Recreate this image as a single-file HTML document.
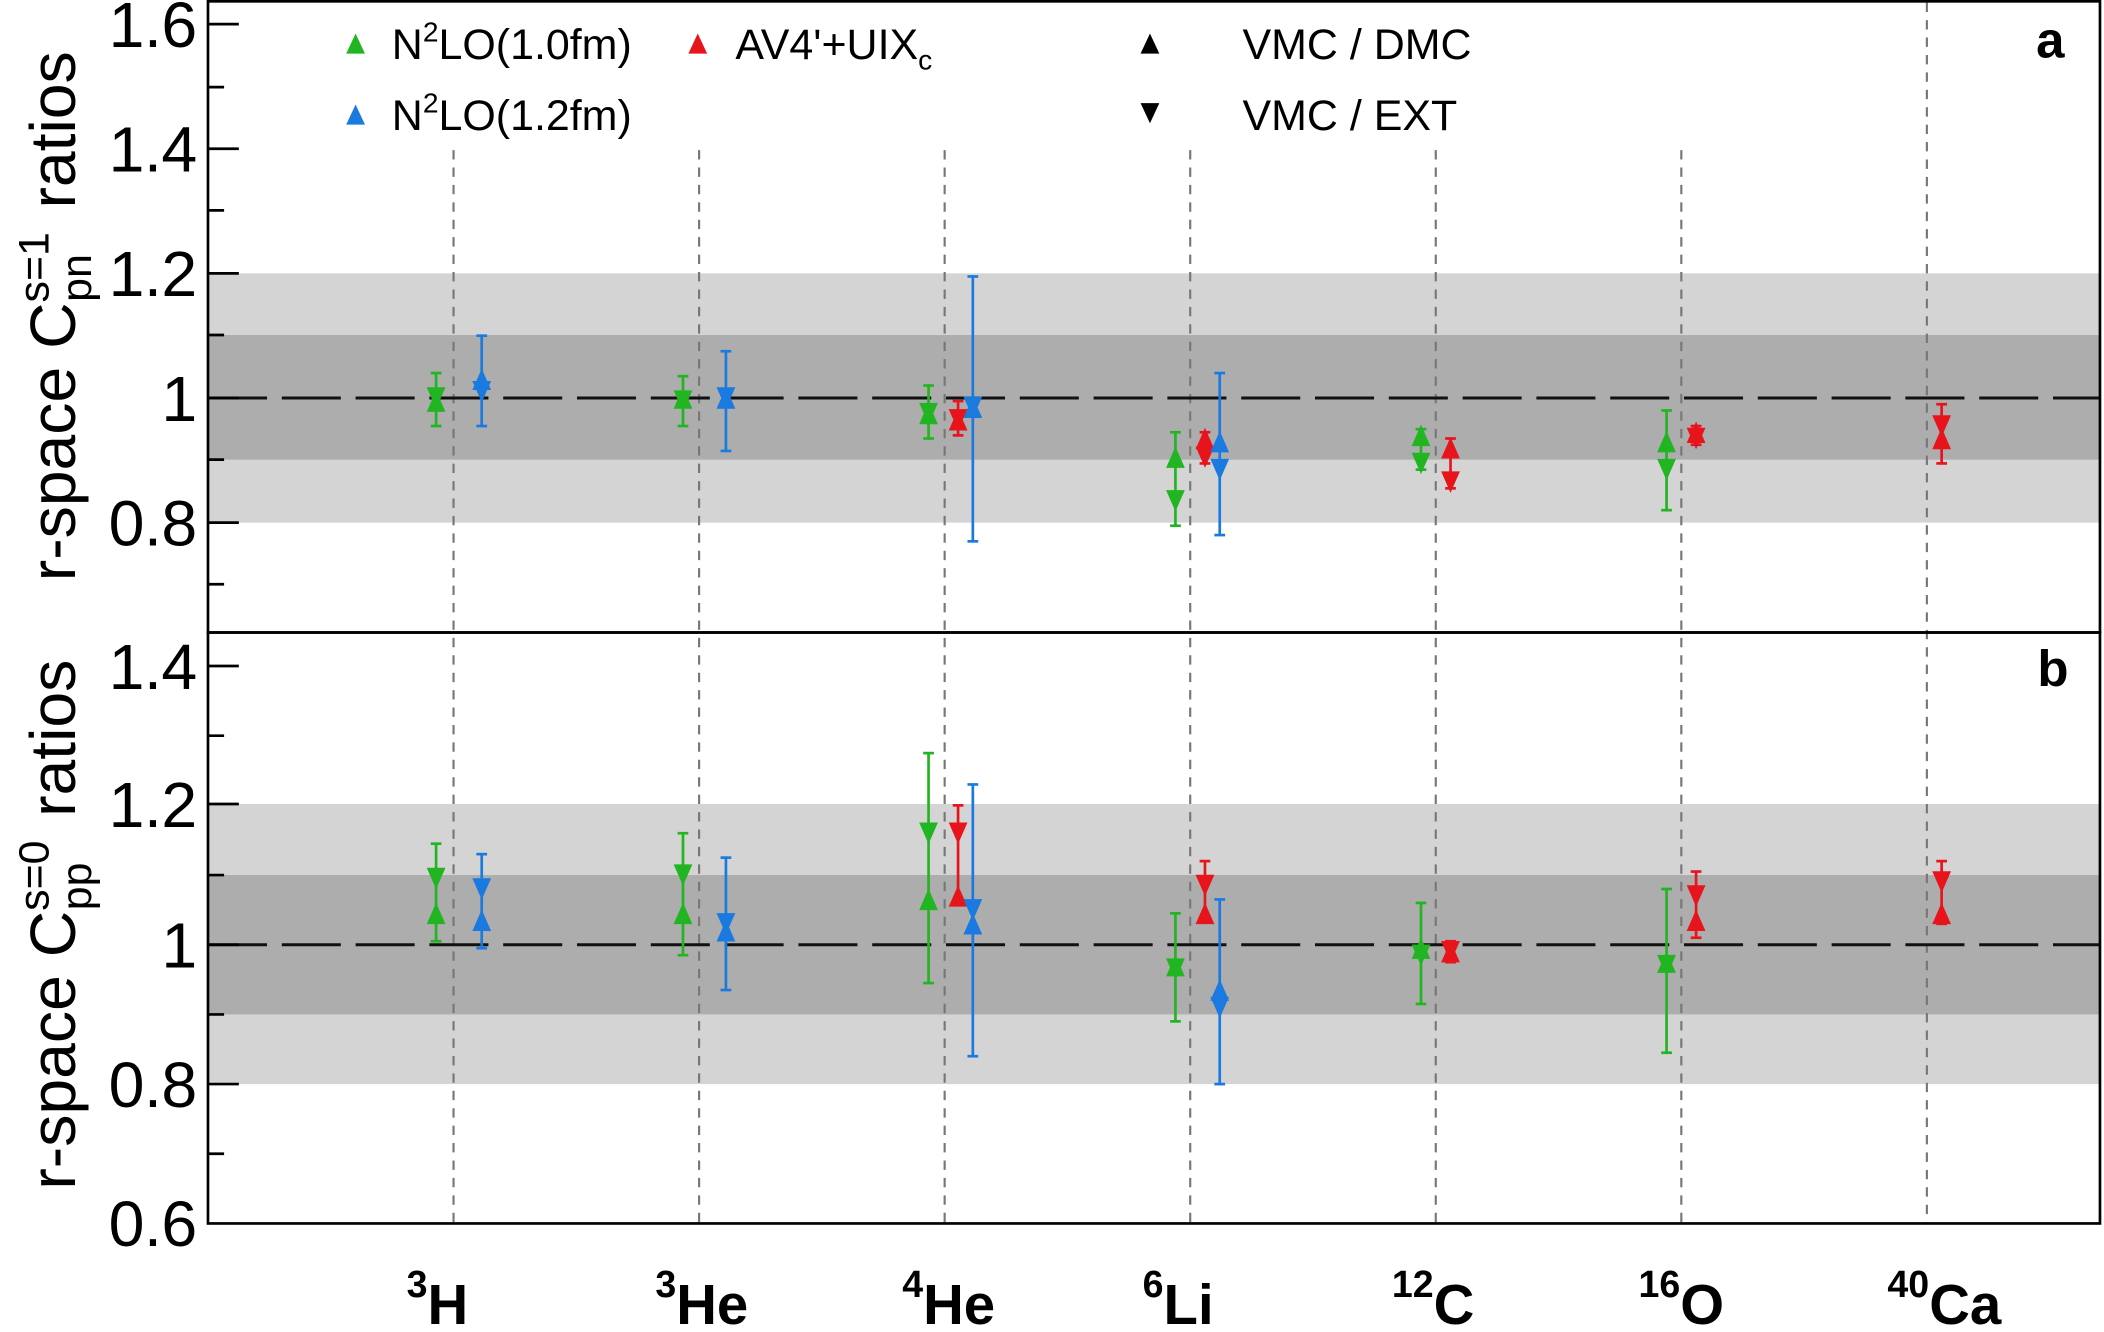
<!DOCTYPE html>
<html><head><meta charset="utf-8"><style>html,body{margin:0;padding:0;background:#fff}svg{display:block}</style></head>
<body>
<svg id="s" width="2104" height="1332" viewBox="0 0 1568 994" preserveAspectRatio="none" xmlns="http://www.w3.org/2000/svg" font-family="Liberation Sans, sans-serif">
<rect x="155" y="204" width="1410" height="186" fill="#d4d4d4"/>
<rect x="155" y="250" width="1410" height="93" fill="#adadad"/>
<rect x="155" y="600" width="1410" height="209" fill="#d4d4d4"/>
<rect x="155" y="653" width="1410" height="104" fill="#adadad"/>
<g stroke="#777" stroke-width="1.6" stroke-dasharray="7,6">
<line x1="338" y1="112" x2="338" y2="913"/>
<line x1="521" y1="112" x2="521" y2="913"/>
<line x1="704" y1="112" x2="704" y2="913"/>
<line x1="887" y1="112" x2="887" y2="913"/>
<line x1="1070" y1="112" x2="1070" y2="913"/>
<line x1="1253" y1="112" x2="1253" y2="913"/>
<line x1="1436" y1="2" x2="1436" y2="913"/>
</g>
<g stroke="#111" stroke-width="2.2" stroke-dasharray="44,11">
<line x1="155" y1="297" x2="1565" y2="297"/>
<line x1="155" y1="705" x2="1565" y2="705"/>
</g>
<g id="data"></g>
<g fill="none" stroke="#000" stroke-width="2">
<rect x="155" y="1" width="1410" height="471"/>
<rect x="155" y="472" width="1410" height="441"/>
</g>
<g stroke="#000" stroke-width="2">
<line x1="155" y1="18" x2="178" y2="18"/><line x1="155" y1="65" x2="167" y2="65"/>
<line x1="155" y1="111" x2="178" y2="111"/><line x1="155" y1="157" x2="167" y2="157"/>
<line x1="155" y1="204" x2="178" y2="204"/><line x1="155" y1="250" x2="167" y2="250"/>
<line x1="155" y1="297" x2="178" y2="297"/><line x1="155" y1="343" x2="167" y2="343"/>
<line x1="155" y1="390" x2="178" y2="390"/><line x1="155" y1="436" x2="167" y2="436"/>
<line x1="155" y1="497" x2="178" y2="497"/><line x1="155" y1="549" x2="167" y2="549"/>
<line x1="155" y1="600" x2="178" y2="600"/><line x1="155" y1="653" x2="167" y2="653"/>
<line x1="155" y1="705" x2="178" y2="705"/><line x1="155" y1="757" x2="167" y2="757"/>
<line x1="155" y1="809" x2="178" y2="809"/><line x1="155" y1="861" x2="167" y2="861"/>
</g>
<g font-size="48" text-anchor="end" fill="#000">
<text x="147" y="35" textLength="66">1.6</text><text x="147" y="128" textLength="66">1.4</text><text x="147" y="221" textLength="66">1.2</text>
<text x="147" y="314">1</text><text x="147" y="407" textLength="66">0.8</text>
<text x="147" y="514" textLength="66">1.4</text><text x="147" y="617" textLength="66">1.2</text><text x="147" y="722">1</text>
<text x="147" y="826" textLength="66">0.8</text><text x="147" y="930" textLength="66">0.6</text>
</g>
<text transform="translate(56,236) rotate(-90)" font-size="48" text-anchor="middle">r-space C<tspan font-size="32" dy="-20">s=1</tspan><tspan font-size="32" dx="-52" dy="32">pn</tspan><tspan dx="34" dy="-12">ratios</tspan></text>
<text transform="translate(56,690) rotate(-90)" font-size="48" text-anchor="middle">r-space C<tspan font-size="32" dy="-20">s=0</tspan><tspan font-size="32" dx="-52" dy="32">pp</tspan><tspan dx="34" dy="-12">ratios</tspan></text>
<g font-size="42" font-weight="bold" text-anchor="middle">
<text x="326" y="988"><tspan font-size="28" dy="-20">3</tspan><tspan dy="20">H</tspan></text>
<text x="523" y="988"><tspan font-size="28" dy="-20">3</tspan><tspan dy="20">He</tspan></text>
<text x="707" y="988"><tspan font-size="28" dy="-20">4</tspan><tspan dy="20">He</tspan></text>
<text x="878" y="988"><tspan font-size="28" dy="-20">6</tspan><tspan dy="20">Li</tspan></text>
<text x="1068" y="988"><tspan font-size="28" dy="-20">12</tspan><tspan dy="20">C</tspan></text>
<text x="1253" y="988"><tspan font-size="28" dy="-20">16</tspan><tspan dy="20">O</tspan></text>
<text x="1449" y="988"><tspan font-size="28" dy="-20">40</tspan><tspan dy="20">Ca</tspan></text>
</g>
<text x="1528" y="43" font-size="38" font-weight="bold" text-anchor="middle">a</text>
<text x="1530" y="512" font-size="38" font-weight="bold" text-anchor="middle">b</text>
<polygon points="258,40 272,40 265,25" fill="#22b522"/>
<polygon points="513,40 527,40 520,25" fill="#e8141c"/>
<polygon points="258,93 272,93 265,78" fill="#1a7ae0"/>
<polygon points="850,40 864,40 857,25" fill="#000"/>
<polygon points="850,77 864,77 857,92" fill="#000"/>
<g font-size="32">
<text x="292" y="44">N<tspan font-size="21" dy="-13">2</tspan><tspan dy="13">LO(1.0fm)</tspan></text>
<text x="292" y="97">N<tspan font-size="21" dy="-13">2</tspan><tspan dy="13">LO(1.2fm)</tspan></text>
<text x="548" y="44">AV4'+UIX<tspan font-size="21" dy="8">c</tspan></text>
<text x="926" y="44">VMC / DMC</text>
<text x="926" y="97">VMC / EXT</text>
</g>
</svg>
<script>
var G='#22b522',R='#e8141c',B='#1a7ae0';
var ya=v=>297-(v-1)*465, yb=v=>705-(v-1)*520;
var A=[[325,G,.995,1.0,.955,1.04],[359,B,1.03,1.01,.955,1.10],[509,G,1.0,.995,.955,1.035],[541,B,1.0,1.0,.915,1.075],
[692,G,.975,.975,.935,1.02],[714,R,.965,.965,.94,.995],[725,B,.985,.985,.77,1.195],
[876,G,.905,.835,.795,.945],[898,R,.935,.905,.895,.945],[909,B,.93,.885,.78,1.04],
[1059,G,.94,.895,.885,.95],[1081,R,.92,.865,.855,.935],[1242,G,.93,.885,.82,.98],[1264,R,.945,.935,.925,.955],[1447,R,.935,.955,.895,.99]];
var Bd=[[325,G,1.045,1.095,1.005,1.145],[359,B,1.035,1.08,.995,1.13],[509,G,1.045,1.10,.985,1.16],[541,B,1.02,1.03,.935,1.125],
[692,G,1.065,1.16,.945,1.275],[714,R,1.07,1.16,1.06,1.2],[725,B,1.03,1.05,.84,1.23],
[876,G,.97,.965,.89,1.045],[898,R,1.045,1.085,1.035,1.12],[909,B,.935,.91,.80,1.065],
[1059,G,.995,.985,.915,1.06],[1081,R,.99,.99,.975,1.005],[1242,G,.975,.97,.845,1.08],[1264,R,1.035,1.07,1.01,1.105],[1447,R,1.045,1.09,1.03,1.12]];
var h='';
function draw(D,f){D.forEach(d=>{var x=d[0],c=d[1],u=f(d[2]),w=f(d[3]),lo=f(d[4]),hi=f(d[5]);
h+=`<line x1="${x}" y1="${lo}" x2="${x}" y2="${hi}" stroke="${c}" stroke-width="2"/>`;
h+=`<line x1="${x-4}" y1="${lo}" x2="${x+4}" y2="${lo}" stroke="${c}" stroke-width="2"/><line x1="${x-4}" y1="${hi}" x2="${x+4}" y2="${hi}" stroke="${c}" stroke-width="2"/>`;
h+=`<polygon points="${x-7},${u+8} ${x+7},${u+8} ${x},${u-8}" fill="${c}"/>`;
h+=`<polygon points="${x-7},${w-8} ${x+7},${w-8} ${x},${w+8}" fill="${c}"/>`;});}
draw(A,ya);draw(Bd,yb);
document.getElementById('data').innerHTML=h;
</script>
</body></html>
